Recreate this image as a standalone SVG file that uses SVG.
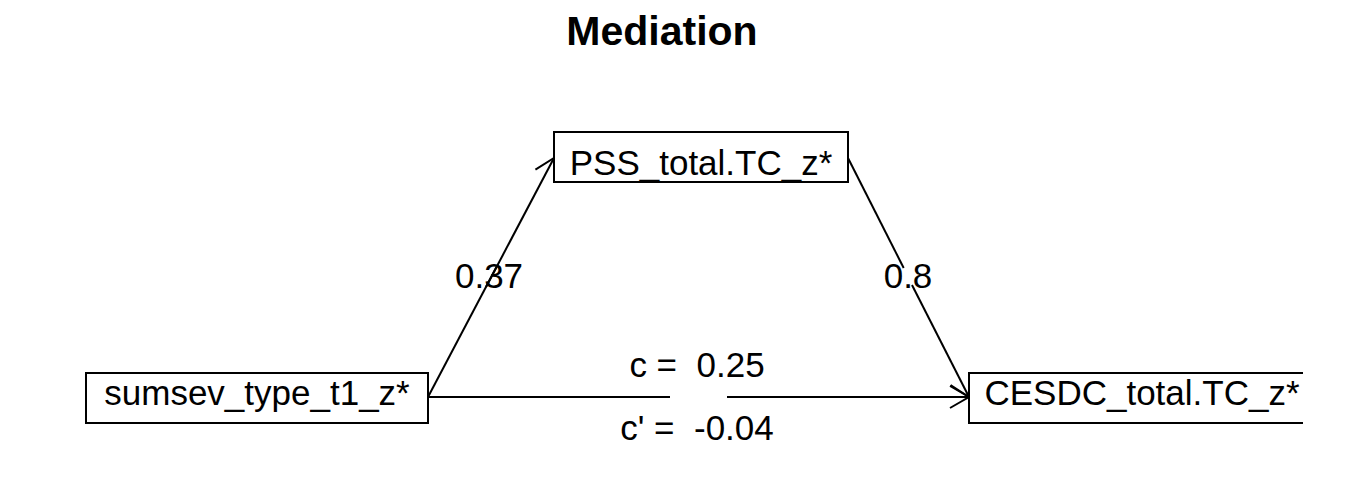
<svg xmlns="http://www.w3.org/2000/svg" width="1362" height="478" viewBox="0 0 1362 478">
<style>
.box{fill:#fff;stroke:#000;stroke-width:2}
.t{font-family:"Liberation Sans",Arial,sans-serif;font-size:35px;fill:#000;text-anchor:middle;white-space:pre}
.title{font-family:"Liberation Sans",Arial,sans-serif;font-size:41px;font-weight:bold;fill:#000;text-anchor:middle}
.e{stroke:#000;stroke-width:2;fill:none}
</style>
<defs>
<marker id="arr" markerUnits="userSpaceOnUse" markerWidth="30" markerHeight="30" viewBox="-25 -15 30 30" refX="0" refY="0" orient="auto">
<path d="M-19,-11 L0,0 L-19,11" fill="none" stroke="#000" stroke-width="2"/>
</marker>
</defs>
<rect width="1362" height="478" fill="#fff"/>
<text class="title" x="662" y="45">Mediation</text>
<g id="connectors">
<line class="e" x1="428" y1="397" x2="496.5" y2="267"/>
<line class="e" x1="486" y1="287" x2="554" y2="158" marker-end="url(#arr)"/>
<line class="e" x1="848" y1="158" x2="903.7" y2="268"/>
<line class="e" x1="912" y1="285" x2="969" y2="397" marker-end="url(#arr)"/>
<line class="e" x1="428" y1="397" x2="670" y2="397"/>
<line class="e" x1="727" y1="397" x2="969" y2="397" marker-end="url(#arr)"/>
<text class="t" x="489" y="288">0.37</text>
<text class="t" x="908" y="288">0.8</text>
<text class="t" x="697" y="377">c =  0.25</text>
<text class="t" x="697" y="440">c' =  -0.04</text>
</g>
<g id="node-pss">
<rect class="box" x="554" y="132" width="294" height="50"/>
<text class="t" x="701" y="175">PSS_total.TC_z*</text>
</g>
<g id="node-sumsev">
<rect class="box" x="86" y="373" width="342" height="50"/>
<text class="t" x="257" y="405">sumsev_type_t1_z*</text>
</g>
<g id="node-cesdc">
<path class="box" d="M1303,373 H969 V423 H1303"/>
<text class="t" x="1142" y="405">CESDC_total.TC_z*</text>
</g>
</svg>
